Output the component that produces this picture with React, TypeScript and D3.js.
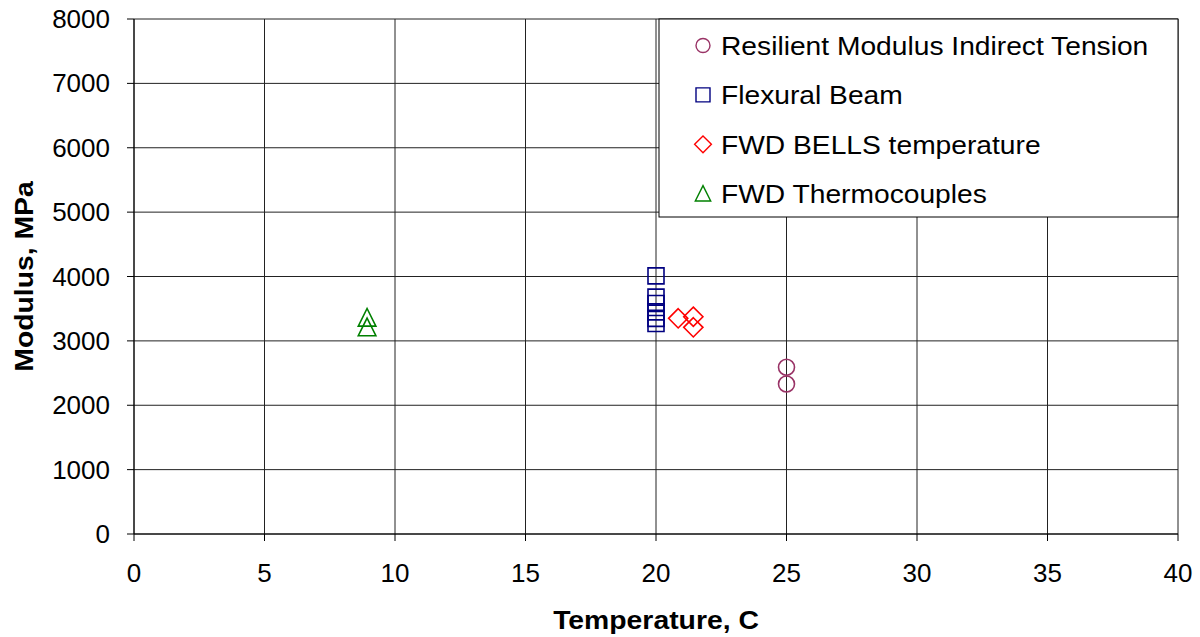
import * as d3 from "d3";

const xTicks = [0, 5, 10, 15, 20, 25, 30, 35, 40];
const yTicks = [0, 1000, 2000, 3000, 4000, 5000, 6000, 7000, 8000];

const resilientX = [25, 25];
const resilientY = [2590, 2330];
const beamX = [20, 20, 20, 20, 20, 20];
const beamY = [4010, 3680, 3580, 3450, 3350, 3270];
const bellsX = [20.85, 21.43, 21.43];
const bellsY = [3350, 3375, 3210];
const thermoX = [8.93, 8.93];
const thermoY = [3360, 3210];

const seriesNames = [
  "Resilient Modulus Indirect Tension",
  "Flexural Beam",
  "FWD BELLS temperature",
  "FWD Thermocouples",
];
const seriesColors = ["#993366", "#000080", "#ff0000", "#008000"];
const seriesShapes = ["circle", "square", "diamond", "triangle"];

const W = 1200;
const H = 637;
const m = { left: 134, right: 22, top: 19, bottom: 103 };

function marker(shape: string, s: number) {
  if (shape === "circle") return d3.symbol(d3.symbolCircle, Math.PI * s * s)();
  if (shape === "square") return d3.symbol(d3.symbolSquare, 4 * s * s)();
  if (shape === "diamond")
    return `M0,${-s * 1.2}L${s * 1.2},0L0,${s * 1.2}L${-s * 1.2},0Z`;
  return `M0,${-s * 1.15}L${s * 1.1},${s * 1.05}L${-s * 1.1},${s * 1.05}Z`;
}

export default function App() {
  const x = d3.scaleLinear().domain([0, 40]).range([m.left, W - m.right]);
  const y = d3.scaleLinear().domain([0, 8000]).range([H - m.bottom, m.top]);
  const font = "Arial, 'Liberation Sans', sans-serif";

  const series = [
    { xs: resilientX, ys: resilientY },
    { xs: beamX, ys: beamY },
    { xs: bellsX, ys: bellsY },
    { xs: thermoX, ys: thermoY },
  ];

  const lx = 659;
  const ly = 19;
  const lw = W - m.right - lx;
  const lh = 198;

  return (
    <svg
      width={W}
      height={H}
      style={{ position: "absolute", left: 0, top: 0, background: "#fff" }}
      fontFamily={font}
    >
      {/* grid */}
      {xTicks.map((t) => (
        <line key={"gx" + t} x1={x(t)} x2={x(t)} y1={y(0)} y2={y(8000)} stroke="#222" strokeWidth={1} />
      ))}
      {yTicks.map((t) => (
        <line key={"gy" + t} x1={x(0)} x2={x(40)} y1={y(t)} y2={y(t)} stroke="#222" strokeWidth={1} />
      ))}
      {/* axes */}
      <line x1={x(0)} x2={x(0)} y1={y(0)} y2={y(8000)} stroke="#000" />
      <line x1={x(0)} x2={x(40)} y1={y(0)} y2={y(0)} stroke="#000" />
      {yTicks.map((t) => (
        <g key={"yt" + t}>
          <line x1={x(0) - 7} x2={x(0)} y1={y(t)} y2={y(t)} stroke="#000" />
          <text x={x(0) - 24} y={y(t) + 9} textAnchor="end" fontSize={26}>
            {t}
          </text>
        </g>
      ))}
      {xTicks.map((t) => (
        <g key={"xt" + t}>
          <line x1={x(t)} x2={x(t)} y1={y(0)} y2={y(0) + 7} stroke="#000" />
          <text x={x(t)} y={y(0) + 48} textAnchor="middle" fontSize={26}>
            {t}
          </text>
        </g>
      ))}
      <text
        transform="translate(656,629) scale(1.09,1)"
        textAnchor="middle"
        fontSize={26}
        fontWeight="bold"
      >
        Temperature, C
      </text>
      <text
        transform={`translate(33,${(y(0) + y(8000)) / 2}) rotate(-90) scale(1.09,1)`}
        textAnchor="middle"
        fontSize={26}
        fontWeight="bold"
      >
        Modulus, MPa
      </text>

      {/* points */}
      {series.map((s, i) =>
        s.xs.map((xv, j) => (
          <path
            key={`p${i}-${j}`}
            d={marker(seriesShapes[i], 8) ?? ""}
            transform={`translate(${x(xv)},${y(s.ys[j])})`}
            fill="none"
            stroke={seriesColors[i]}
            strokeWidth={1.6}
          />
        ))
      )}

      {/* legend */}
      <rect x={lx} y={ly} width={lw} height={lh} fill="#fff" stroke="#000" strokeWidth={1} />
      {seriesNames.map((n, i) => (
        <g key={n} transform={`translate(${lx + 44},${ly + 26.5 + i * 49.4})`}>
          <path
            d={marker(seriesShapes[i], 7) ?? ""}
            fill="none"
            stroke={seriesColors[i]}
            strokeWidth={1.4}
          />
          <text transform="translate(18,9.5) scale(1.085,1)" fontSize={26}>
            {n}
          </text>
        </g>
      ))}
    </svg>
  );
}
